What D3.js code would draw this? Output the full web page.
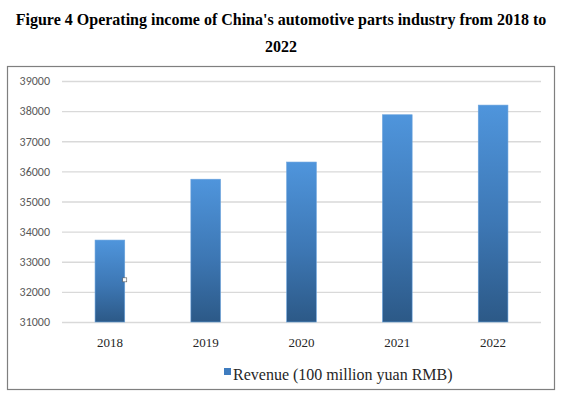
<!DOCTYPE html>
<html>
<head>
<meta charset="utf-8">
<script src="https://cdn.jsdelivr.net/npm/d3@7"></script>
<style>
body { margin: 0; background: #fff; }
</style>
</head>
<body>
<div id="chart"></div>
<script>
// data
var years = ["2018", "2019", "2020", "2021", "2022"];
var revenue = [33720, 35740, 36310, 37880, 38200];
var yTicks = [31000, 32000, 33000, 34000, 35000, 36000, 37000, 38000, 39000];
var seriesName = "Revenue (100 million yuan RMB)";

var svgWidth = 563;
var svgHeight = 396;

var svg = d3.select("#chart")
    .append("svg")
    .attr("width", svgWidth)
    .attr("height", svgHeight);

// title
svg.append("text")
    .attr("x", 281)
    .attr("y", 25)
    .attr("text-anchor", "middle")
    .style("font-family", "'Liberation Serif', 'Times New Roman', serif")
    .style("font-weight", "bold")
    .style("font-size", "16px")
    .text("Figure 4 Operating income of China's automotive parts industry from 2018 to");

svg.append("text")
    .attr("x", 281)
    .attr("y", 52)
    .attr("text-anchor", "middle")
    .style("font-family", "'Liberation Serif', 'Times New Roman', serif")
    .style("font-weight", "bold")
    .style("font-size", "16px")
    .text("2022");

// chart frame
svg.append("rect")
    .attr("x", 7.5)
    .attr("y", 66.5)
    .attr("width", 547)
    .attr("height", 323)
    .attr("fill", "none")
    .attr("stroke", "#7f7f7f")
    .attr("stroke-width", 1.2);

var defs = svg.append("defs");
var grad = defs.append("linearGradient")
    .attr("id", "barGrad")
    .attr("x1", 0).attr("y1", 0)
    .attr("x2", 0).attr("y2", 1);
grad.append("stop").attr("offset", "0%").attr("stop-color", "#4f95dc");
grad.append("stop").attr("offset", "55%").attr("stop-color", "#3d77b4");
grad.append("stop").attr("offset", "100%").attr("stop-color", "#2c5987");

var plot = { left: 62, right: 541, top: 81, bottom: 322 };

var x = d3.scaleBand()
    .domain(years)
    .range([plot.left, plot.right])
    .paddingInner(0.69)
    .paddingOuter(0.345);

var y = d3.scaleLinear()
    .domain([31000, 39000])
    .range([plot.bottom, plot.top]);

// gridlines
var grid = d3.axisLeft(y)
    .tickValues(yTicks)
    .tickSize(-(plot.right - plot.left))
    .tickFormat("");

svg.append("g")
    .attr("transform", "translate(" + plot.left + ",0)")
    .call(grid)
    .call(function(g) { g.select(".domain").remove(); })
    .selectAll("line")
    .attr("stroke", "#d9d9d9")
    .attr("stroke-width", 1.3);

// y labels
var yAxis = d3.axisLeft(y)
    .tickValues(yTicks)
    .tickSize(0)
    .tickPadding(12)
    .tickFormat(d3.format("d"));

svg.append("g")
    .attr("transform", "translate(" + plot.left + ",0)")
    .call(yAxis)
    .call(function(g) { g.select(".domain").remove(); })
    .selectAll("text")
    .attr("fill", "#595959")
    .style("font-family", "Carlito, 'Liberation Sans', 'DejaVu Sans', sans-serif")
    .style("font-size", "12px");

// bars
svg.selectAll(".bar")
    .data(revenue)
    .enter()
    .append("rect")
    .attr("class", "bar")
    .attr("x", function(d, i) { return x(years[i]); })
    .attr("y", function(d) { return y(d); })
    .attr("width", x.bandwidth())
    .attr("height", function(d) { return y(31000) - y(d); })
    .attr("fill", "url(#barGrad)")
    .attr("stroke", "#6aa3dd")
    .attr("stroke-width", 0.6);

// small handle artifact on the first bar
svg.append("rect")
    .attr("x", x(years[0]) + x.bandwidth() - 2)
    .attr("y", y(32400) - 2)
    .attr("width", 4)
    .attr("height", 4)
    .attr("fill", "#fff")
    .attr("stroke", "#555")
    .attr("stroke-width", 0.6);

// x labels
var xAxis = d3.axisBottom(x).tickSize(0).tickPadding(16);
svg.append("g")
    .attr("transform", "translate(0," + plot.bottom + ")")
    .call(xAxis)
    .call(function(g) { g.select(".domain").remove(); })
    .selectAll("text")
    .attr("fill", "#262626")
    .style("font-family", "'Liberation Serif', 'Times New Roman', serif")
    .style("font-size", "13px");

// legend
var legend = svg.append("g").attr("transform", "translate(224,373)");
legend.append("rect")
    .attr("x", 0)
    .attr("y", -5)
    .attr("width", 7)
    .attr("height", 7)
    .attr("fill", "#3f7cbf");
legend.append("text")
    .attr("x", 9)
    .attr("y", 2)
    .attr("dy", "0.3em")
    .attr("fill", "#262626")
    .style("font-family", "'Liberation Serif', 'Times New Roman', serif")
    .style("font-size", "16px")
    .text(seriesName);
</script>
</body>
</html>
